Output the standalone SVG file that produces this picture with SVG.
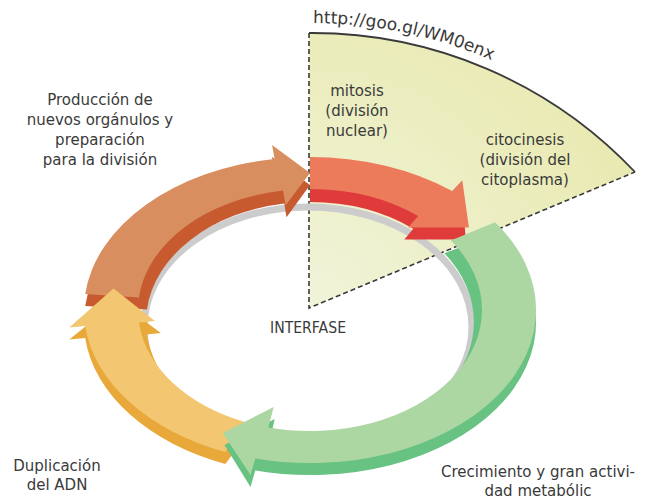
<svg xmlns="http://www.w3.org/2000/svg" width="647" height="500" viewBox="0 0 647 500">
<defs>
  <radialGradient id="secFill" cx="309" cy="308" r="340" gradientUnits="userSpaceOnUse">
    <stop offset="0" stop-color="#f1f4da"/>
    <stop offset="1" stop-color="#e9eab2"/>
  </radialGradient>
</defs>
<style>
  text { font-family: "DejaVu Sans", "Liberation Sans", sans-serif; font-size: 15px; fill: #3a3a3a; text-anchor: middle; }
  .dash { fill: none; stroke: #3a3a3a; stroke-width: 1.6; stroke-dasharray: 5 3; }
  .arcline { fill: none; stroke: #3a3a3a; stroke-width: 1.8; }
  .shadow { fill: none; stroke: #cccccc; stroke-width: 7; }
  .o-top { fill: #d98e5f; } .o-side { fill: #c75a2e; }
  .r-top { fill: #ec7b5c; } .r-side { fill: #e03b3b; }
  .g-top { fill: #acd6a2; } .g-side { fill: #68c282; }
  .y-top { fill: #f3c671; } .y-side { fill: #e9a93a; }
</style>

<g id="mitosis-sector">
  <path d="M309,308 L309,33 A444,444 0 0 1 635,172 Z" fill="url(#secFill)"/>
  <path class="arcline" d="M309,33 A444,444 0 0 1 635,172"/>
  <path class="dash" d="M309,33 L309,308 L635,172"/>
  <path id="urlPath" d="M300,23.2 A454,454 0 0 1 640,163.1" fill="none"/>
  <text style="font-size:17px;text-anchor:start"><textPath href="#urlPath" startOffset="13">http://goo.gl/WM0enx</textPath></text>
</g>

<g id="ring-shadow">
  <ellipse class="shadow" cx="308" cy="327" rx="164" ry="120"/>
</g>

<g id="connectors">
  <g id="arrow-orange">
    <path class="o-side" d="M85.2,306 A226,153 0 0 1 274.6,170.9 L272.1,157.1 L310,185 L286.5,217.3 L284.3,203.5 A164,120 0 0 0 146.9,309.5 Z"/>
    <path class="o-top" d="M85.2,294 A226,153 0 0 1 274.6,158.9 L272.1,145.1 L310,173 L285.6,205.3 L283.1,190.5 A172,121 0 0 0 138.9,297.4 Z"/>
  </g>
  <g id="arrow-red">
    <path class="r-side" d="M310,169 A226,153 0 0 1 452.2,203.1 L462.3,192.2 L465.7,239.5 L404.4,239.6 L413.2,228.7 A164,120 0 0 0 310,202 Z"/>
    <path class="r-top" d="M310,157 A226,153 0 0 1 452.2,191.1 L462.3,180.2 L468.9,227.5 L408.2,227.6 L418.2,216 A172,121 0 0 0 310,189 Z"/>
  </g>
  <g id="arrow-yellow">
    <path class="y-side" d="M225.3,463.9 A226,153 0 0 1 85.2,338 L69.3,339.5 L117.4,300.6 L160.8,333.1 L146.9,334.5 A164,120 0 0 0 248.6,433.3 Z"/>
    <path class="y-top" d="M225.3,451.9 A226,153 0 0 1 85.2,326 L69.3,327.5 L113.5,288.6 L154.9,321.1 L138.9,322.6 A172,121 0 0 0 245.6,422.2 Z"/>
  </g>
  <g id="arrow-green">
    <path class="g-side" d="M495.1,234.2 A226,153 0 0 1 255.3,470.5 L250.5,487 L224.5,445.1 L274.7,419 L270.3,438.4 A164,120 0 0 0 444.3,253.2 Z"/>
    <path class="g-top" d="M495.1,222.2 A226,153 0 0 1 255.3,458.5 L250.5,475 L222.8,433.1 L273.7,407 L268.4,427.4 A172,121 0 0 0 450.9,240.6 Z"/>
  </g>
</g>

<g id="label-mitosis">
  <text x="357" y="96">mitosis</text>
  <text x="357" y="116">(división</text>
  <text x="357" y="136">nuclear)</text>
</g>
<g id="label-citocinesis">
  <text x="525" y="145">citocinesis</text>
  <text x="525" y="165">(división del</text>
  <text x="525" y="185">citoplasma)</text>
</g>
<g id="label-produccion">
  <text x="100" y="105">Producción de</text>
  <text x="100" y="125">nuevos orgánulos y</text>
  <text x="100" y="145">preparación</text>
  <text x="100" y="165">para la división</text>
</g>
<g id="label-interfase">
  <text x="308" y="333" style="font-size:16px" textLength="76" lengthAdjust="spacingAndGlyphs">INTERFASE</text>
</g>
<g id="label-duplicacion">
  <text x="57" y="471">Duplicación</text>
  <text x="57" y="490">del ADN</text>
</g>
<g id="label-crecimiento">
  <text x="538" y="477">Crecimiento y gran activi-</text>
  <text x="538" y="496">dad metabólic</text>
</g>
</svg>
